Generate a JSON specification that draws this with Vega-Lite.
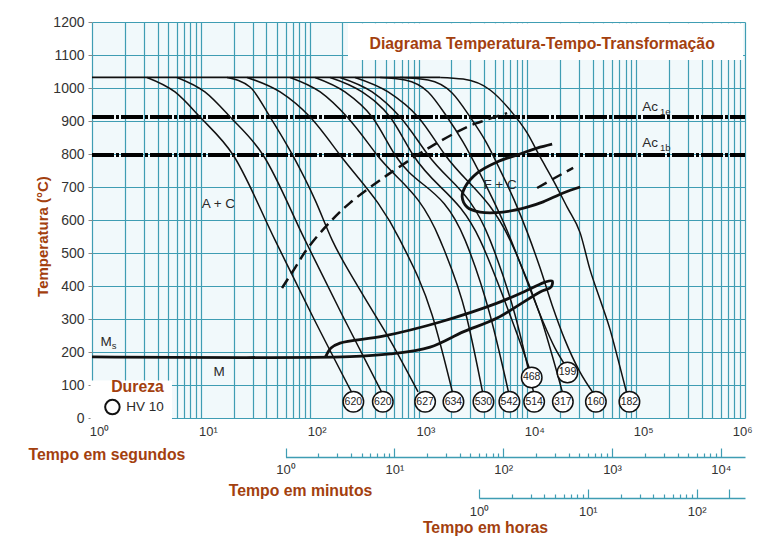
{
  "$schema": "https://vega.github.io/schema/vega-lite/v6.json",
  "width": 653,
  "height": 396,
  "autosize": {"type": "none"},
  "padding": {"left": 92, "top": 22, "right": 13, "bottom": 119},
  "background": "#ffffff",
  "config": {
    "view": {"fill": "#f1f9fb", "stroke": null},
    "font": "Liberation Sans",
    "axis": {"labelFont": "Liberation Sans", "titleFont": "Liberation Sans"}
  },
  "datasets": {
    "boxes": [
      {"t": 225, "t2": 960000, "T": 1085, "T2": 1196},
      {"t": 0.97, "t2": 5.43, "T": -3, "T2": 114}
    ],
    "ac": [
      {"n": "e", "t": 1, "T": 912}, {"n": "e", "t": 1000000, "T": 912},
      {"n": "b", "t": 1, "T": 797}, {"n": "b", "t": 1000000, "T": 797}
    ],
    "aus": [{"t": 1, "T": 1032}, {"t": 1580, "T": 1032}],
    "cool": [
      {"c": "c1", "o": 1, "t": 3.2, "T": 1032}, {"c": "c1", "o": 2, "t": 5.79, "T": 988}, {"c": "c1", "o": 3, "t": 9.83, "T": 912}, {"c": "c1", "o": 4, "t": 19.8, "T": 797}, {"c": "c1", "o": 5, "t": 48.1, "T": 539}, {"c": "c1", "o": 6, "t": 105, "T": 312}, {"c": "c1", "o": 7, "t": 250, "T": 70},
      {"c": "c2", "o": 1, "t": 6.04, "T": 1032}, {"c": "c2", "o": 2, "t": 10.9, "T": 988}, {"c": "c2", "o": 3, "t": 18.6, "T": 912}, {"c": "c2", "o": 4, "t": 37.3, "T": 797}, {"c": "c2", "o": 5, "t": 90.7, "T": 539}, {"c": "c2", "o": 6, "t": 199, "T": 312}, {"c": "c2", "o": 7, "t": 473, "T": 70},
      {"c": "c3", "o": 1, "t": 17.4, "T": 1032}, {"c": "c3", "o": 2, "t": 28.3, "T": 1003}, {"c": "c3", "o": 3, "t": 43.3, "T": 912}, {"c": "c3", "o": 4, "t": 70.4, "T": 794}, {"c": "c3", "o": 5, "t": 112, "T": 661}, {"c": "c3", "o": 6, "t": 161, "T": 539}, {"c": "c3", "o": 7, "t": 290, "T": 388}, {"c": "c3", "o": 8, "t": 548, "T": 236}, {"c": "c3", "o": 9, "t": 991, "T": 79},
      {"c": "c4", "o": 1, "t": 26.6, "T": 1032}, {"c": "c4", "o": 2, "t": 53.5, "T": 988}, {"c": "c4", "o": 3, "t": 100.9, "T": 912}, {"c": "c4", "o": 4, "t": 190, "T": 797}, {"c": "c4", "o": 5, "t": 677, "T": 539}, {"c": "c4", "o": 6, "t": 1334, "T": 312}, {"c": "c4", "o": 7, "t": 2080, "T": 70},
      {"c": "c5", "o": 1, "t": 66.1, "T": 1032}, {"c": "c5", "o": 2, "t": 125, "T": 988}, {"c": "c5", "o": 3, "t": 221, "T": 912}, {"c": "c5", "o": 4, "t": 416, "T": 797}, {"c": "c5", "o": 5, "t": 1580, "T": 539}, {"c": "c5", "o": 6, "t": 2738, "T": 312}, {"c": "c5", "o": 7, "t": 3925, "T": 70},
      {"c": "c6", "o": 1, "t": 112, "T": 1032}, {"c": "c6", "o": 2, "t": 211, "T": 988}, {"c": "c6", "o": 3, "t": 375, "T": 912}, {"c": "c6", "o": 4, "t": 609, "T": 797}, {"c": "c6", "o": 5, "t": 2680, "T": 539}, {"c": "c6", "o": 6, "t": 4546, "T": 312}, {"c": "c6", "o": 7, "t": 6804, "T": 70},
      {"c": "c7", "o": 1, "t": 154, "T": 1032}, {"c": "c7", "o": 2, "t": 303, "T": 988}, {"c": "c7", "o": 3, "t": 548, "T": 912}, {"c": "c7", "o": 4, "t": 892, "T": 797}, {"c": "c7", "o": 5, "t": 3680, "T": 539}, {"c": "c7", "o": 6, "t": 6938, "T": 312}, {"c": "c7", "o": 7, "t": 10590, "T": 145},
      {"c": "c8", "o": 1, "t": 190, "T": 1032}, {"c": "c8", "o": 2, "t": 375, "T": 988}, {"c": "c8", "o": 3, "t": 677, "T": 912}, {"c": "c8", "o": 4, "t": 1225, "T": 797}, {"c": "c8", "o": 5, "t": 4546, "T": 539}, {"c": "c8", "o": 6, "t": 7712, "T": 312}, {"c": "c8", "o": 7, "t": 11550, "T": 70},
      {"c": "c9", "o": 1, "t": 261, "T": 1032}, {"c": "c9", "o": 2, "t": 526, "T": 988}, {"c": "c9", "o": 3, "t": 991, "T": 912}, {"c": "c9", "o": 4, "t": 1756, "T": 797}, {"c": "c9", "o": 5, "t": 6938, "T": 539}, {"c": "c9", "o": 6, "t": 13080, "T": 312}, {"c": "c9", "o": 7, "t": 21330, "T": 70},
      {"c": "c10", "o": 1, "t": 444, "T": 1032}, {"c": "c10", "o": 2, "t": 753, "T": 1024}, {"c": "c10", "o": 3, "t": 1225, "T": 988}, {"c": "c10", "o": 4, "t": 1832, "T": 912}, {"c": "c10", "o": 5, "t": 2570, "T": 836}, {"c": "c10", "o": 6, "t": 3530, "T": 752}, {"c": "c10", "o": 7, "t": 4748, "T": 667}, {"c": "c10", "o": 8, "t": 6252, "T": 582}, {"c": "c10", "o": 9, "t": 8231, "T": 485}, {"c": "c10", "o": 10, "t": 10840, "T": 382}, {"c": "c10", "o": 11, "t": 13970, "T": 291}, {"c": "c10", "o": 12, "t": 17960, "T": 212}, {"c": "c10", "o": 13, "t": 22200, "T": 161},
      {"c": "c11", "o": 1, "t": 677, "T": 1032}, {"c": "c11", "o": 2, "t": 1225, "T": 1024}, {"c": "c11", "o": 3, "t": 2037, "T": 985}, {"c": "c11", "o": 4, "t": 2981, "T": 912}, {"c": "c11", "o": 5, "t": 4180, "T": 836}, {"c": "c11", "o": 6, "t": 5616, "T": 752}, {"c": "c11", "o": 7, "t": 7561, "T": 661}, {"c": "c11", "o": 8, "t": 9958, "T": 564}, {"c": "c11", "o": 9, "t": 13080, "T": 455}, {"c": "c11", "o": 10, "t": 16900, "T": 342}, {"c": "c11", "o": 11, "t": 22200, "T": 236}, {"c": "c11", "o": 12, "t": 30480, "T": 139}, {"c": "c11", "o": 13, "t": 40250, "T": 76},
      {"c": "c12", "o": 1, "t": 1580, "T": 1032}, {"c": "c12", "o": 2, "t": 2570, "T": 1027}, {"c": "c12", "o": 3, "t": 4551, "T": 994}, {"c": "c12", "o": 4, "t": 6949, "T": 933}, {"c": "c12", "o": 5, "t": 9958, "T": 864}, {"c": "c12", "o": 6, "t": 13110, "T": 791}, {"c": "c12", "o": 7, "t": 17260, "T": 721}, {"c": "c12", "o": 8, "t": 23220, "T": 639}, {"c": "c12", "o": 9, "t": 30570, "T": 561}, {"c": "c12", "o": 10, "t": 37780, "T": 448}, {"c": "c12", "o": 11, "t": 46690, "T": 358}, {"c": "c12", "o": 12, "t": 57680, "T": 267}, {"c": "c12", "o": 13, "t": 68330, "T": 176}, {"c": "c12", "o": 14, "t": 82660, "T": 70}
    ],
    "dashed": [
      {"c": "f", "o": 1, "t": 55.7, "T": 394}, {"c": "f", "o": 2, "t": 73.4, "T": 455}, {"c": "f", "o": 3, "t": 94.6, "T": 512}, {"c": "f", "o": 4, "t": 154, "T": 594}, {"c": "f", "o": 5, "t": 235, "T": 652}, {"c": "f", "o": 6, "t": 444, "T": 721}, {"c": "f", "o": 7, "t": 548, "T": 742}, {"c": "f", "o": 8, "t": 1279, "T": 821}, {"c": "f", "o": 9, "t": 2797, "T": 882}, {"c": "f", "o": 10, "t": 3683, "T": 897}, {"c": "f", "o": 11, "t": 6520, "T": 924},
      {"c": "p", "o": 1, "t": 12300, "T": 697}, {"c": "p", "o": 2, "t": 18000, "T": 728}, {"c": "p", "o": 3, "t": 26370, "T": 758}
    ],
    "thick": [
      {"c": "fc", "o": 1, "t": 16900, "T": 830}, {"c": "fc", "o": 2, "t": 12300, "T": 818}, {"c": "fc", "o": 3, "t": 8060, "T": 797}, {"c": "fc", "o": 4, "t": 5275, "T": 776}, {"c": "fc", "o": 5, "t": 3455, "T": 742}, {"c": "fc", "o": 6, "t": 2680, "T": 700}, {"c": "fc", "o": 7, "t": 2518, "T": 670}, {"c": "fc", "o": 8, "t": 2797, "T": 639}, {"c": "fc", "o": 9, "t": 3683, "T": 624}, {"c": "fc", "o": 10, "t": 5995, "T": 624}, {"c": "fc", "o": 11, "t": 9955, "T": 639}, {"c": "fc", "o": 12, "t": 13970, "T": 655}, {"c": "fc", "o": 13, "t": 21330, "T": 682}, {"c": "fc", "o": 14, "t": 30550, "T": 700},
      {"c": "b", "o": 1, "t": 140, "T": 185}, {"c": "b", "o": 2, "t": 157, "T": 212}, {"c": "b", "o": 3, "t": 190, "T": 227}, {"c": "b", "o": 4, "t": 473, "T": 248}, {"c": "b", "o": 5, "t": 1580, "T": 291}, {"c": "b", "o": 6, "t": 5275, "T": 348}, {"c": "b", "o": 7, "t": 10600, "T": 391}, {"c": "b", "o": 8, "t": 14580, "T": 412}, {"c": "b", "o": 9, "t": 16900, "T": 415}, {"c": "b", "o": 10, "t": 16550, "T": 397}, {"c": "b", "o": 11, "t": 13100, "T": 382}, {"c": "b", "o": 12, "t": 5275, "T": 303}, {"c": "b", "o": 13, "t": 2570, "T": 261}, {"c": "b", "o": 14, "t": 1279, "T": 215}, {"c": "b", "o": 15, "t": 548, "T": 194}, {"c": "b", "o": 16, "t": 235, "T": 186}, {"c": "b", "o": 17, "t": 1, "T": 185}
    ],
    "hard": [
      {"t": 252, "T": 49, "v": "620"}, {"t": 470, "T": 49, "v": "620"}, {"t": 1150, "T": 49, "v": "627"}, {"t": 2094, "T": 49, "v": "634"}, {"t": 3951, "T": 49, "v": "530"}, {"t": 6840, "T": 49, "v": "542"}, {"t": 11550, "T": 49, "v": "514"}, {"t": 21200, "T": 49, "v": "317"}, {"t": 42630, "T": 49, "v": "160"}, {"t": 86700, "T": 49, "v": "182"}, {"t": 10970, "T": 123, "v": "468"}, {"t": 23380, "T": 138, "v": "199"}
    ],
    "txt": [
      {"t": 14.5, "T": 648, "v": "A + C"}, {"t": 5616, "T": 706, "v": "F + C"}, {"t": 14.7, "T": 140, "v": "M"}, {"t": 1.345, "T": 230, "v": "M"}, {"t": 134500, "T": 942, "v": "Ac"}, {"t": 134500, "T": 833, "v": "Ac"}, {"t": 3.07, "T": 33, "v": "HV 10"}
    ],
    "subs": [
      {"t": 1.593, "T": 218, "v": "s"}, {"t": 184800, "T": 927, "v": "1e"}, {"t": 184800, "T": 818, "v": "1b"}
    ],
    "brown": [
      {"t": 2.62, "T": 94, "v": "Dureza"}, {"t": 13680, "T": 1133, "v": "Diagrama Temperatura-Tempo-Transformação"}
    ],
    "hvmark": [{"t": 1.54, "T": 33}]
  },
  "resolve": {"scale": {"x": "independent"}, "axis": {"x": "independent"}},
  "layer": [
    {
      "encoding": {
        "x": {
          "field": "t", "type": "quantitative",
          "scale": {"type": "log", "domain": [1, 1000000], "nice": false},
          "axis": {
            "orient": "bottom",
            "values": [1,2,3,4,5,6,7,8,9,10,20,30,40,50,60,70,80,90,100,200,300,400,500,600,700,800,900,1000,2000,3000,4000,5000,6000,7000,8000,9000,10000,20000,30000,40000,50000,60000,70000,80000,90000,100000,200000,300000,400000,500000,600000,700000,800000,900000,1000000],
            "grid": true, "gridColor": "#3f9db3", "gridWidth": 1.2,
            "ticks": false, "domain": false,
            "labelExpr": "abs(log(datum.value)/LN10 - round(log(datum.value)/LN10)) < 0.001 ? '10' + ['⁰','¹','²','³','⁴','⁵','⁶'][round(log(datum.value)/LN10)] : ''",
            "labelFontSize": 13, "labelColor": "#333333", "labelPadding": 7,
            "labelAlign": {"condition": {"test": "datum.value >= 999999", "value": "right"}, "value": "center"},
            "labelOffset": 7, "labelFlush": false, "labelOverlap": false, "labelBound": false,
            "title": "Tempo em segundos", "titleX": -64, "titleY": 36, "titleAlign": "left", "titleBaseline": "middle",
            "titleFontSize": 15.8, "titleFontWeight": "bold", "titleColor": "#a3400e"
          }
        },
        "y": {
          "field": "T", "type": "quantitative",
          "scale": {"domain": [0, 1200], "nice": false},
          "axis": {
            "values": [0,100,200,300,400,500,600,700,800,900,1000,1100,1200],
            "format": "d",
            "grid": true, "gridColor": "#3f9db3", "gridWidth": 1.2,
            "domain": false, "tickSize": 4, "tickColor": "#888888",
            "labelFontSize": 14, "labelColor": "#333333", "labelPadding": 4,
            "title": "Temperatura (°C)", "titleX": -50, "titleY": 214, "titleAngle": -90,
            "titleAlign": "center", "titleBaseline": "middle",
            "titleFontSize": 15, "titleFontWeight": "bold", "titleColor": "#a3400e"
          }
        }
      },
      "layer": [
        {"data": {"name": "boxes"}, "mark": {"type": "rect", "fill": "#ffffff"}, "encoding": {"x2": {"field": "t2"}, "y2": {"field": "T2"}}},
        {"data": {"name": "ac"}, "mark": {"type": "line", "color": "#000000", "strokeWidth": 4, "strokeDash": [22, 2, 3, 2]}, "encoding": {"detail": {"field": "n"}}},
        {"data": {"name": "aus"}, "mark": {"type": "line", "color": "#111111", "strokeWidth": 1.8}, "encoding": {}},
        {"data": {"name": "cool"}, "mark": {"type": "line", "color": "#111111", "strokeWidth": 1.5, "interpolate": "monotone"}, "encoding": {"detail": {"field": "c"}, "order": {"field": "o"}}},
        {"data": {"name": "dashed"}, "mark": {"type": "line", "color": "#111111", "strokeWidth": 2.5, "strokeDash": [11, 6], "interpolate": "catmull-rom"}, "encoding": {"detail": {"field": "c"}, "order": {"field": "o"}}},
        {"data": {"name": "thick"}, "mark": {"type": "line", "color": "#111111", "strokeWidth": 2.8, "interpolate": "catmull-rom"}, "encoding": {"detail": {"field": "c"}, "order": {"field": "o"}}},
        {"data": {"name": "hard"}, "mark": {"type": "point", "shape": "circle", "size": 420, "filled": true, "fill": "#ffffff", "stroke": "#111111", "strokeWidth": 1.5, "opacity": 1}},
        {"data": {"name": "hard"}, "mark": {"type": "text", "fontSize": 10.5, "color": "#222222", "align": "center", "baseline": "middle"}, "encoding": {"text": {"field": "v"}}},
        {"data": {"name": "hvmark"}, "mark": {"type": "point", "shape": "circle", "size": 210, "filled": false, "stroke": "#111111", "strokeWidth": 2, "opacity": 1}},
        {"data": {"name": "txt"}, "mark": {"type": "text", "fontSize": 13.5, "color": "#2a2a2a", "align": "center", "baseline": "middle"}, "encoding": {"text": {"field": "v"}}},
        {"data": {"name": "subs"}, "mark": {"type": "text", "fontSize": 9.5, "color": "#2a2a2a", "align": "center", "baseline": "middle"}, "encoding": {"text": {"field": "v"}}},
        {"data": {"name": "brown"}, "mark": {"type": "text", "fontSize": 15.8, "fontWeight": "bold", "color": "#a3400e", "align": "center", "baseline": "middle"}, "encoding": {"text": {"field": "v"}}}
      ]
    },
    {
      "data": {"values": [{"m": 1}, {"m": 16666.7}]},
      "mark": {"type": "rule", "opacity": 0},
      "encoding": {
        "x": {
          "field": "m", "type": "quantitative",
          "scale": {"type": "log", "domain": [1, 16666.7], "nice": false, "rangeMin": 193.5},
          "axis": {
            "orient": "bottom", "offset": 39, "values": [1, 10, 100, 1000, 10000],
            "grid": false, "tickSize": -9, "tickWidth": 1.2, "tickColor": "#3f9db3",
            "domain": true, "domainColor": "#3f9db3", "domainWidth": 1.5,
            "labelExpr": "'10' + ['⁰','¹','²','³','⁴','⁵','⁶'][round(log(datum.value)/LN10)]",
            "labelFontSize": 13, "labelColor": "#333333", "labelPadding": 15,
            "labelAlign": "center", "labelFlush": false, "labelOverlap": false, "labelBound": false,
            "title": "Tempo em minutos", "titleX": 208, "titleY": 33, "titleAlign": "center", "titleBaseline": "middle",
            "titleFontSize": 15.8, "titleFontWeight": "bold", "titleColor": "#a3400e"
          }
        }
      }
    },
    {
      "data": {"values": [{"m2": 1}, {"m2": 16666.7}]},
      "mark": {"type": "rule", "opacity": 0},
      "encoding": {
        "x": {
          "field": "m2", "type": "quantitative",
          "scale": {"type": "log", "domain": [1, 16666.7], "nice": false, "rangeMin": 193.5},
          "axis": {
            "orient": "bottom", "offset": 39,
            "values": [2,3,4,5,6,7,8,9,20,30,40,50,60,70,80,90,200,300,400,500,600,700,800,900,2000,3000,4000,5000,6000,7000,8000,9000],
            "grid": false, "tickSize": -4, "tickWidth": 1.2, "tickColor": "#3f9db3",
            "domain": false, "labels": false, "title": null
          }
        }
      }
    },
    {
      "data": {"values": [{"h": 1}, {"h": 277.78}]},
      "mark": {"type": "rule", "opacity": 0},
      "encoding": {
        "x": {
          "field": "h", "type": "quantitative",
          "scale": {"type": "log", "domain": [1, 277.78], "nice": false, "rangeMin": 386.9},
          "axis": {
            "orient": "bottom", "offset": 80, "values": [1, 10, 100, 200],
            "grid": false, "tickSize": -9, "tickWidth": 1.2, "tickColor": "#3f9db3",
            "domain": true, "domainColor": "#3f9db3", "domainWidth": 1.5,
            "labelExpr": "datum.value == 200 ? '' : '10' + ['⁰','¹','²','³'][round(log(datum.value)/LN10)]",
            "labelFontSize": 13, "labelColor": "#333333", "labelPadding": 16,
            "labelAlign": "center", "labelFlush": false, "labelOverlap": false, "labelBound": false,
            "title": "Tempo em horas", "titleX": 393, "titleY": 29, "titleAlign": "center", "titleBaseline": "middle",
            "titleFontSize": 15.8, "titleFontWeight": "bold", "titleColor": "#a3400e"
          }
        }
      }
    },
    {
      "data": {"values": [{"h2": 1}, {"h2": 277.78}]},
      "mark": {"type": "rule", "opacity": 0},
      "encoding": {
        "x": {
          "field": "h2", "type": "quantitative",
          "scale": {"type": "log", "domain": [1, 277.78], "nice": false, "rangeMin": 386.9},
          "axis": {
            "orient": "bottom", "offset": 80,
            "values": [2,3,4,5,6,7,8,9,20,30,40,50,60,70,80,90],
            "grid": false, "tickSize": -4, "tickWidth": 1.2, "tickColor": "#3f9db3",
            "domain": false, "labels": false, "title": null
          }
        }
      }
    }
  ]
}
